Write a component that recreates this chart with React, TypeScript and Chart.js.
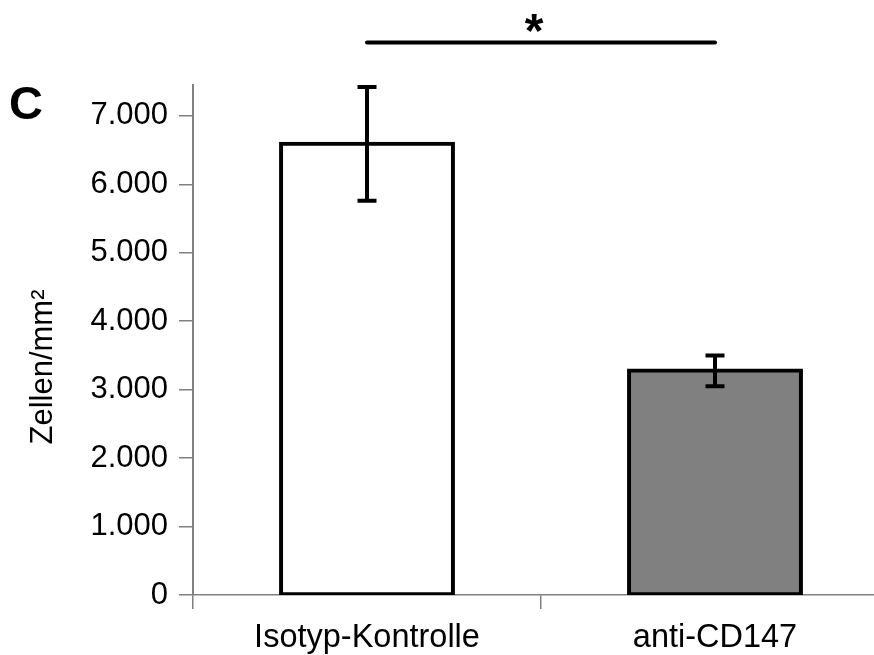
import React, { useEffect, useRef } from 'react';
import { Chart, registerables } from 'chart.js';

Chart.register(...registerables);

const categories = ['Isotyp-Kontrolle', 'anti-CD147'];
const means = [6590, 3280];
const errLow = [5760, 3050];
const errHigh = [7420, 3500];
const barColors = ['#ffffff', '#808080'];
const yTicks = [0, 1000, 2000, 3000, 4000, 5000, 6000, 7000];
const yMax = 7450;
const sigLevel = 8070;
const sigLabel = '*';
const panelLabel = 'C';
const yTitle = 'Zellen/mm²';

const FONT = '"Liberation Sans", Arial, sans-serif';

const fmt = (v: number) => String(v).replace(/\B(?=(\d{3})+(?!\d))/g, '.');

const overlay = {
  id: 'overlay',
  afterDatasetsDraw(chart: any) {
    const { ctx } = chart;
    const x = chart.scales.x;
    const y = chart.scales.y;
    ctx.save();
    ctx.strokeStyle = '#000';
    ctx.lineWidth = 4;
    ctx.lineCap = 'butt';
    means.forEach((_m, i) => {
      const cx = x.getPixelForValue(i);
      const yl = y.getPixelForValue(errLow[i]);
      const yh = y.getPixelForValue(errHigh[i]);
      ctx.beginPath();
      ctx.moveTo(cx, yl);
      ctx.lineTo(cx, yh);
      ctx.moveTo(cx - 9.5, yl);
      ctx.lineTo(cx + 9.5, yl);
      ctx.moveTo(cx - 9.5, yh);
      ctx.lineTo(cx + 9.5, yh);
      ctx.stroke();
    });
    // significance bar
    const x0 = x.getPixelForValue(0);
    const x1 = x.getPixelForValue(1);
    const ys = y.getPixelForValue(sigLevel);
    ctx.lineCap = 'round';
    ctx.lineWidth = 4;
    ctx.beginPath();
    ctx.moveTo(x0, ys);
    ctx.lineTo(x1, ys);
    ctx.stroke();
    ctx.fillStyle = '#000';
    ctx.font = `bold 48px ${FONT}`;
    ctx.textAlign = 'center';
    ctx.textBaseline = 'alphabetic';
    ctx.fillText(sigLabel, (x0 + x1) / 2 - 7, ys + 4);
    // panel label
    ctx.font = `bold 47px ${FONT}`;
    ctx.textAlign = 'left';
    ctx.fillText(panelLabel, 9, 119);
    // y axis title
    ctx.save();
    ctx.translate(43, 367);
    ctx.rotate(-Math.PI / 2);
    ctx.font = `31px ${FONT}`;
    ctx.textAlign = 'center';
    ctx.textBaseline = 'middle';
    ctx.fillText(yTitle, 0, 0);
    ctx.restore();
    ctx.restore();
  },
};

export default function App() {
  const ref = useRef<HTMLCanvasElement | null>(null);
  useEffect(() => {
    if (!ref.current) return;
    const chart = new Chart(ref.current, {
      type: 'bar',
      data: {
        labels: categories,
        datasets: [
          {
            data: means,
            backgroundColor: barColors,
            borderColor: '#000',
            borderWidth: 4,
            borderSkipped: false,
            inflateAmount: 2,
            categoryPercentage: 1,
            barPercentage: 0.494,
          },
        ],
      },
      options: {
        animation: false,
        responsive: false,
        devicePixelRatio: 1,
        layout: { padding: { top: 85, right: 11, left: 0, bottom: 0 } },
        plugins: { legend: { display: false }, tooltip: { enabled: false } },
        scales: {
          x: {
            offset: true,
            grid: { offset: true, drawOnChartArea: false, tickLength: 14, color: '#808080', lineWidth: 1.5 },
            border: { color: '#808080', width: 1.5 },
            ticks: { font: { family: FONT, size: 32.5 }, color: '#000', padding: 10 },
            afterFit: (s: any) => { s.height = 60; },
          },
          y: {
            min: 0,
            max: yMax,
            afterBuildTicks: (s: any) => { s.ticks = yTicks.map((v) => ({ value: v })); },
            grid: { drawOnChartArea: false, tickLength: 14, color: '#808080', lineWidth: 1.5 },
            border: { color: '#808080', width: 2 },
            ticks: {
              font: { family: FONT, size: 31 },
              color: '#000',
              padding: 11,
              callback: (v: any) => fmt(Number(v)),
            },
            afterFit: (s: any) => { s.width = 193; },
          },
        },
      },
      plugins: [overlay],
    });
    return () => chart.destroy();
  }, []);
  return (
    <div style={{ position: 'fixed', left: 0, top: 0, width: 874, height: 655, overflow: 'hidden', background: '#fff' }}>
      <canvas ref={ref} width={900} height={655} style={{ width: 900, height: 655, display: 'block' }} />
    </div>
  );
}
